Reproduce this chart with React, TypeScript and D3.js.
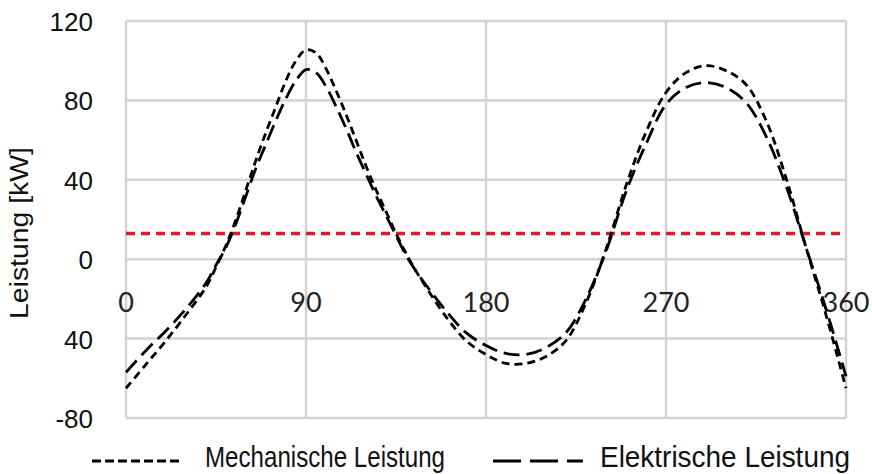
import React from 'react';
import * as d3 from 'd3';

// crank angle in degrees
const angles = [0, 10, 20, 30, 40, 45, 50, 55, 60, 65, 70, 75, 80, 85, 90, 95, 100, 105, 110, 115, 120, 125, 130, 135, 140, 145, 150, 160, 170, 180, 190, 200, 210, 220, 230, 240, 250, 260, 270, 280, 290, 300, 310, 320, 330, 340, 350, 360];

// power in kW
const mechanisch = [-65, -53, -41, -28, -14, -4, 7, 20, 35, 50, 64, 77, 90, 100, 105.5, 104, 96, 85, 73, 60, 47, 35, 24, 13, 3, -6, -14, -29, -41, -48, -52.5, -52.5, -49, -41, -22, 5, 37, 64, 84, 94, 97.5, 95, 88, 70, 41, 6, -28, -65];
const elektrisch = [-57, -46, -36, -25, -12, -3, 6, 18, 32, 46, 58, 70, 81, 90, 95.5, 94, 87, 77, 66, 54, 43, 32, 22, 12, 2, -6, -13, -26, -37, -43.5, -47.5, -48, -44.5, -37, -20, 4, 34, 58, 78, 86.5, 89, 86.5, 79, 62, 37, 6, -25, -59];

const grenze = 13;

const xTicks = [0, 90, 180, 270, 360];
const yTicks = [120, 80, 40, 0, -40, -80];
const yTickLabels = ['120', '80', '40', '0', '40', '-80'];

const legend = ['Mechanische Leistung', 'Elektrische Leistung'];

export default function App() {
  const width = 872;
  const height = 474;
  const x = d3.scaleLinear().domain([0, 360]).range([126, 846]);
  const y = d3.scaleLinear().domain([-80, 120]).range([418, 21]);

  const line = d3
    .line<number>()
    .x((_, i) => x(angles[i]))
    .y((d) => y(d))
    .curve(d3.curveCatmullRom.alpha(0.5));

  const grid = '#d3d3d3';
  const sans = 'Liberation Sans, Arial, sans-serif';

  return (
    <svg width={width} height={height} style={{ position: 'absolute', left: 0, top: 0, background: '#fff' }}>
      {/* grid */}
      {yTicks.map((t) => (
        <line key={'h' + t} x1={x(0)} x2={x(360)} y1={y(t)} y2={y(t)} stroke={grid} strokeWidth={2.5} />
      ))}
      {xTicks.map((t) => (
        <line key={'v' + t} x1={x(t)} x2={x(t)} y1={y(120)} y2={y(-80)} stroke={grid} strokeWidth={2.5} />
      ))}

      {/* y tick labels */}
      {yTicks.map((t, i) => (
        <text key={'yl' + t} x={93} y={y(t) + 1} textAnchor="end" dominantBaseline="central" fontFamily={sans} fontSize={26} fill="#111">
          {yTickLabels[i]}
        </text>
      ))}

      {/* x tick labels */}
      {xTicks.map((t) => (
        <text key={'xl' + t} x={x(t)} y={301} textAnchor="middle" dominantBaseline="central" fontFamily="Lato, sans-serif" fontSize={27} fill="#222">
          {t}
        </text>
      ))}

      {/* axis title */}
      <text transform="translate(28,233) rotate(-90)" textAnchor="middle" fontFamily={sans} fontSize={26} textLength={172} lengthAdjust="spacingAndGlyphs" fill="#111">
        Leistung [kW]
      </text>

      {/* threshold */}
      <line x1={x(0)} x2={x(360)} y1={y(grenze)} y2={y(grenze)} stroke="#d0202e" strokeWidth={3.5} strokeDasharray="9,6" />

      {/* series */}
      <path d={line(elektrisch) || ''} fill="none" stroke="#000" strokeWidth={2.8} strokeDasharray="16,7" />
      <path d={line(mechanisch) || ''} fill="none" stroke="#000" strokeWidth={2.8} strokeDasharray="8,5" />

      {/* legend */}
      <line x1={92} x2={182} y1={461} y2={461} stroke="#000" strokeWidth={3} strokeDasharray="9,4" />
      <text x={205} y={467} fontFamily={sans} fontSize={30} textLength={240} lengthAdjust="spacingAndGlyphs" fill="#111">
        {legend[0]}
      </text>
      <line x1={493} x2={583} y1={461} y2={461} stroke="#000" strokeWidth={3} strokeDasharray="28,9" />
      <text x={600} y={467} fontFamily={sans} fontSize={30} textLength={250} lengthAdjust="spacingAndGlyphs" fill="#111">
        {legend[1]}
      </text>
    </svg>
  );
}
